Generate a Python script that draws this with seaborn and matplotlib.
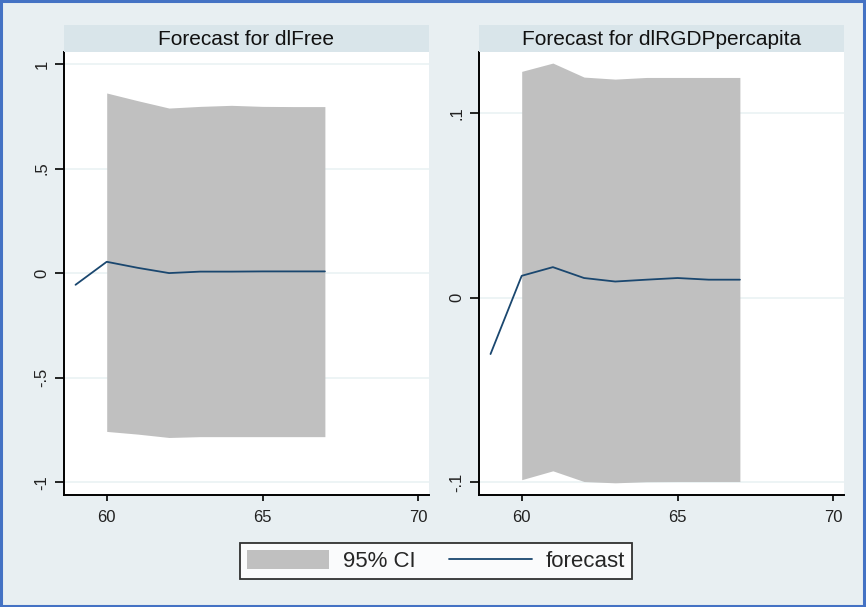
import matplotlib
matplotlib.use("Agg")
import matplotlib.pyplot as plt
import seaborn as sns
import pandas as pd
from matplotlib.patches import Patch, Rectangle
from matplotlib.lines import Line2D

# Forecast horizon
steps_line = [59, 60, 61, 62, 63, 64, 65, 66, 67]
steps_ci = [60, 61, 62, 63, 64, 65, 66, 67]

# dlFree
free_fc = [-0.056, 0.054, 0.025, 0.0, 0.007, 0.007, 0.008, 0.008, 0.008]
free_hi = [0.861, 0.824, 0.789, 0.797, 0.802, 0.797, 0.796, 0.796]
free_lo = [-0.757, -0.770, -0.786, -0.782, -0.782, -0.782, -0.782, -0.782]

# dlRGDPpercapita
gdp_fc = [-0.0305, 0.0119, 0.0166, 0.0107, 0.0088, 0.0098, 0.0107, 0.0098, 0.0098]
gdp_hi = [0.1227, 0.1272, 0.1196, 0.1185, 0.1194, 0.1194, 0.1194, 0.1194]
gdp_lo = [-0.0986, -0.0938, -0.0996, -0.1003, -0.0997, -0.0996, -0.0996, -0.0996]

titles = ["Forecast for dlFree", "Forecast for dlRGDPpercapita"]
yticks = [[-1, -0.5, 0, 0.5, 1], [-0.1, 0, 0.1]]
ylabels = [["-1", "-.5", "0", ".5", "1"], ["-.1", "0", ".1"]]
xticks = [60, 65, 70]

BG = "#E8EFF2"
STRIP = "#D9E5EA"
GRID = "#EAF2F3"
CI = "#C0C0C0"
LINE = "#1A476F"

sns.set_theme(style="white")
plt.rcParams["font.family"] = ["Liberation Sans", "DejaVu Sans"]

fig = plt.figure(figsize=(8.66, 6.07), dpi=100, facecolor=BG)
W, H = 866, 607

panels = [
    dict(x0=64, x1=429, fc=free_fc, hi=free_hi, lo=free_lo, ylim=(-1.061, 1.057)),
    dict(x0=479, x1=844, fc=gdp_fc, hi=gdp_hi, lo=gdp_lo, ylim=(-0.1069, 0.1332)),
]
top, bottom, strip_top = 52, 495, 25

for i, p in enumerate(panels):
    ax = fig.add_axes([p["x0"] / W, 1 - bottom / H, (p["x1"] - p["x0"]) / W, (bottom - top) / H])
    ax.set_facecolor("white")
    for y in yticks[i]:
        ax.axhline(y, color=GRID, lw=1.2, zorder=0)
    ax.fill_between(steps_ci, p["lo"], p["hi"], color=CI, lw=0, zorder=1)
    df = pd.DataFrame({"step": steps_line, "forecast": p["fc"]})
    sns.lineplot(data=df, x="step", y="forecast", ax=ax, color=LINE, lw=1.3, zorder=2)
    ax.set_xlim(58.63, 70.34)
    ax.set_ylim(*p["ylim"])
    ax.set_xticks(xticks)
    ax.set_xticklabels([str(t) for t in xticks], fontsize=12, color="#222222")
    ax.set_yticks(yticks[i])
    ax.set_yticklabels(ylabels[i], fontsize=12, rotation=90, va="center", color="#222222")
    ax.set_xlabel("")
    ax.set_ylabel("")
    for s in ["top", "right"]:
        ax.spines[s].set_visible(False)
    for s in ["left", "bottom"]:
        ax.spines[s].set_color("black")
        ax.spines[s].set_linewidth(1.4)
    ax.tick_params(axis="y", length=6.5, width=1.2, color="black", pad=4, left=True)
    ax.tick_params(axis="x", length=4.5, width=1.2, color="black", pad=6, bottom=True)

    # Title strip above each panel
    sax = fig.add_axes([p["x0"] / W, 1 - top / H, (p["x1"] - p["x0"]) / W, (top - strip_top) / H])
    sax.set_facecolor(STRIP)
    sax.set_xticks([])
    sax.set_yticks([])
    for s in sax.spines.values():
        s.set_visible(False)
    sax.text(0.5, 0.45, titles[i], ha="center", va="center", fontsize=15, color="#111111",
             transform=sax.transAxes)

handles = [Patch(facecolor=CI, edgecolor="none"), Line2D([], [], color=LINE, lw=1.3)]
leg = fig.legend(handles, ["95% CI", "forecast"], loc="center", bbox_to_anchor=(436 / W, 1 - 561 / H),
                 ncol=2, fontsize=16, frameon=True, fancybox=False, handlelength=3.7,
                 handleheight=0.95, handletextpad=0.63, columnspacing=1.5, borderpad=0.3,
                 borderaxespad=0)
leg.get_frame().set_edgecolor("black")
leg.get_frame().set_linewidth(1.3)
leg.get_frame().set_facecolor("white")

# Outer frame
fig.patches.append(Rectangle((0.001, 0.002), 0.997, 0.996, transform=fig.transFigure,
                             fill=False, edgecolor="#4472C4", lw=2.2))

fig.savefig("out.png", dpi=100, facecolor=BG)
